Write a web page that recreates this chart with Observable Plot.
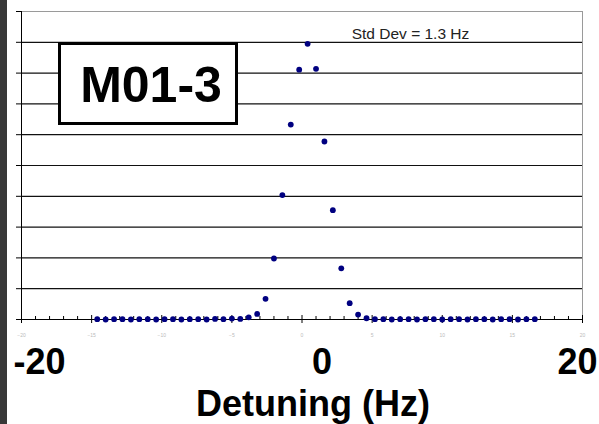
<!DOCTYPE html>
<html><head><meta charset="utf-8">
<script src="https://cdn.jsdelivr.net/npm/d3@7"></script>
<script src="https://cdn.jsdelivr.net/npm/@observablehq/plot@0.6"></script>
<style>
body{margin:0;background:#fff;font-family:"Liberation Sans",Arial,sans-serif;}
#wrap{position:relative;width:599px;height:424px;overflow:hidden;background:#fff;}
#strip{position:absolute;left:0;top:0;width:7px;height:424px;background:#383838;}
#badge{position:absolute;left:58px;top:42px;width:180px;height:83px;box-sizing:border-box;border:3px solid #000;background:#fff;font-weight:bold;font-size:50px;line-height:80px;text-align:center;color:#000;white-space:nowrap;padding-left:6px;}
</style></head><body>
<div id="wrap"><div id="strip"></div><div id="badge">M01-3</div></div>
<script>
const detuning = [-14.6, -14.0, -13.4, -12.8, -12.2, -11.6, -11.0, -10.4, -9.8, -9.2, -8.6, -8.0, -7.4, -6.8, -6.2, -5.6, -5.0,
  -4.4, -3.8, -3.2, -2.6, -2.0, -1.4, -0.8, -0.2, 0.4, 1.0, 1.6, 2.2, 2.8, 3.4, 4.0, 4.6,
  5.2, 5.8, 6.4, 7.0, 7.6, 8.2, 8.8, 9.4, 10.0, 10.6, 11.2, 11.8, 12.4, 13.0, 13.6, 14.2, 14.8, 15.4, 16.0, 16.6];
const signal = [0.01, 0.00, 0.01, 0.01, 0.00, 0.01, 0.01, 0.00, 0.01, 0.01, 0.00, 0.01, 0.01, 0.00, 0.02, 0.01, 0.03,
  0.02, 0.07, 0.18, 0.67, 1.98, 4.04, 6.33, 8.11, 8.95, 8.14, 5.78, 3.55, 1.66, 0.53, 0.16, 0.04,
  0.01, 0.01, 0.00, 0.01, 0.01, 0.00, 0.01, 0.01, 0.00, 0.01, 0.01, 0.00, 0.01, 0.01, 0.00, 0.01, 0.01, 0.00, 0.01, 0.01];
const gridValues = [1, 2, 3, 4, 5, 6, 7, 8, 9];
const yTickValues = [0, 1, 2, 3, 4, 5, 6, 7, 8, 9, 10];
const majorTicks = [-20, -15, -10, -5, 0, 5, 10, 15, 20];
const minorTicks = [-19, -18, -17, -16, -14, -13, -12, -11, -9, -8, -7, -6, -4, -3, -2, -1,
  1, 2, 3, 4, 6, 7, 8, 9, 11, 12, 13, 14, 16, 17, 18, 19];
const bigLabels = ["-20", "0", "20"];
const xTitle = "Detuning (Hz)";
const note = "Std Dev = 1.3 Hz";

const data = detuning.map((d, i) => ({x: d, y: signal[i]}));
const bold = {fontSize: 36, fontWeight: "bold", fill: "#000", frameAnchor: "bottom", lineAnchor: "bottom", dy: 54};

const chart = Plot.plot({
  width: 599, height: 424,
  marginLeft: 21, marginRight: 17, marginTop: 11, marginBottom: 105,
  x: {domain: [-20, 20], axis: null},
  y: {domain: [0, 10], axis: null},
  style: {background: "transparent", fontFamily: "'Liberation Sans', Arial, sans-serif", color: "#000"},
  marks: [
    Plot.ruleY(gridValues, {stroke: "#111", strokeWidth: 1.2}),
    Plot.ruleY([10], {stroke: "#9a9a9a"}),
    Plot.ruleX([20], {stroke: "#9a9a9a"}),
    Plot.axisY({ticks: yTickValues, tickSize: 5, tickFormat: () => "", label: null}),
    Plot.ruleX([-20], {stroke: "#000"}),
    Plot.ruleY([0], {stroke: "#000", strokeWidth: 1.2}),
    Plot.axisX({ticks: minorTicks, tickSize: 3, dy: -3, tickFormat: () => "", label: null}),
    Plot.axisX({ticks: majorTicks, tickSize: 8, dy: -4, tickFormat: () => "", label: null}),
    Plot.axisX({ticks: majorTicks, tickSize: 0, tickPadding: 14, fontSize: 5, fill: "#bbb", label: null}),
    Plot.dot(data, {x: "x", y: "y", r: 2.9, fill: "#000080", stroke: null}),
    Plot.text([bigLabels[0]], {...bold, x: () => -20, textAnchor: "start", dx: -8}),
    Plot.text([bigLabels[1]], {...bold, x: () => 0, textAnchor: "middle", dx: 20}),
    Plot.text([bigLabels[2]], {...bold, x: () => 20, textAnchor: "end", dx: 15}),
    Plot.text([xTitle], {fontSize: 36, fontWeight: "bold", fill: "#000", frameAnchor: "bottom", lineAnchor: "bottom", dx: 11, dy: 96}),
    Plot.text([note], {fontSize: 15.5, fill: "#222", frameAnchor: "top", lineAnchor: "bottom", dx: 108.5, dy: 27})
  ]
});
const wrap = document.getElementById("wrap");
wrap.insertBefore(chart, wrap.firstChild);
</script>
</body></html>
